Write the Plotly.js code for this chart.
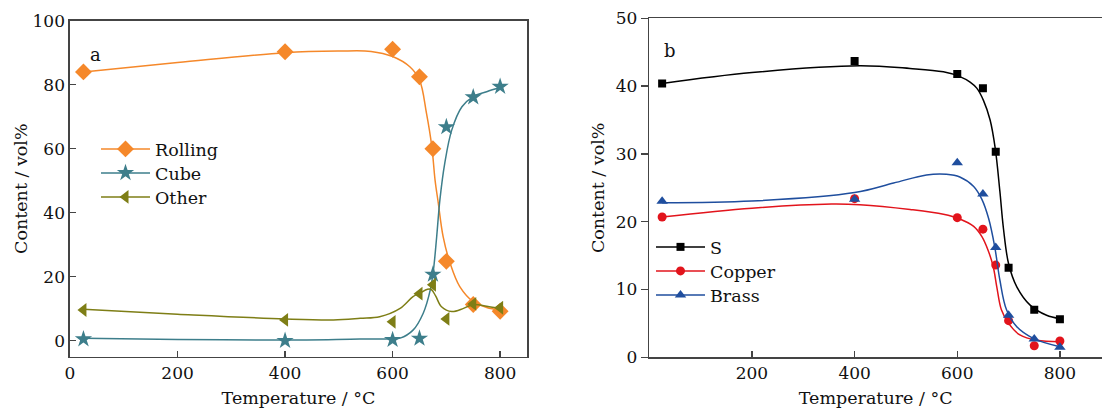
<!DOCTYPE html>
<html><head><meta charset="utf-8">
<script src="https://cdn.plot.ly/plotly-3.0.1.min.js"></script>
<style>html,body{margin:0;padding:0;background:#fff}#chart{width:1102px;height:409px}</style>
</head><body><div id="chart"></div>
<script>
// Measured points (°C, vol%)
const temps = [25, 400, 600, 650, 675, 700, 750, 800];
const rolling = [84.0, 90.3, 91.1, 82.5, 60.0, 24.8, 11.3, 9.2];
const cube = [0.5, 0.0, 0.3, 0.7, 20.7, 66.8, 76.1, 79.4];
const other = [9.6, 6.5, 5.9, 14.7, 17.5, 6.8, 11.5, 10.3];
const sComp = [40.4, 43.7, 41.8, 39.7, 30.3, 13.2, 7.0, 5.6];
const copper = [20.7, 23.4, 20.6, 18.9, 13.6, 5.4, 1.7, 2.4];
const brass = [23.0, 23.3, 28.7, 24.1, 16.2, 6.2, 2.7, 1.5];

// Fitted curves
const rollingFitT = [25, 200, 400, 500, 560, 600, 632, 650, 663, 673, 679, 685, 694, 707, 725, 750, 775, 800];
const rollingFit  = [84.0, 86.9, 90.0, 90.5, 90.4, 88.8, 85.6, 81.5, 71.1, 60.6, 50.2, 43.0, 32.5, 24.2, 16.9, 12.2, 10.4, 9.6];
const cubeFitT = [25, 200, 400, 539, 600, 614, 638, 657, 670, 676, 682, 688, 697, 710, 729, 750, 775, 800];
const cubeFit  = [0.75, 0.4, 0.2, 0.5, 0.6, 0.8, 3.3, 8.6, 15.8, 22.1, 32.5, 44.0, 55.4, 65.8, 73.1, 76.3, 77.8, 79.2];
const otherFitT = [25, 200, 400, 490, 540, 576, 614, 638, 650, 665, 672, 680, 691, 710, 732, 750, 775, 800];
const otherFit  = [9.8, 8.3, 6.8, 6.5, 7.0, 7.5, 10.1, 13.8, 14.8, 16.1, 16.0, 14.0, 10.6, 9.1, 10.1, 11.3, 10.8, 10.1];
const sFitT = [25, 200, 410, 508, 573, 605, 625, 638, 651, 664, 674, 683, 690, 700, 716, 742, 774, 800];
const sFit  = [40.4, 42.0, 43.0, 42.6, 42.1, 41.4, 40.6, 39.7, 37.9, 35.0, 30.8, 24.5, 19.0, 13.8, 10.4, 7.7, 6.2, 5.7];
const copperFitT = [25, 200, 355, 410, 508, 573, 605, 632, 648, 660, 670, 677, 686, 700, 722, 755, 800];
const copperFit  = [20.7, 22.0, 22.6, 22.5, 21.8, 21.1, 20.4, 19.3, 17.8, 15.8, 13.4, 10.4, 7.0, 5.0, 3.3, 2.5, 2.3];
const brassFitT = [25, 200, 400, 476, 540, 579, 605, 632, 648, 661, 673, 683, 696, 716, 748, 800];
const brassFit  = [22.8, 23.05, 24.3, 25.7, 26.9, 27.0, 26.6, 25.2, 23.3, 20.5, 16.3, 11.4, 7.0, 4.5, 2.8, 1.56];

const xTicksA = [0, 200, 400, 600, 800];
const xTicksB = [200, 400, 600, 800];
const yTicksA = [0, 20, 40, 60, 80, 100];
const yTicksB = [0, 10, 20, 30, 40, 50];

const FONT = 'DejaVu Serif';
const W = 1102, H = 409;
const series = [
  {name: 'Rolling', v: rolling, ft: rollingFitT, fv: rollingFit, color: '#F5882A', symbol: 'diamond', size: 13, ax: ['x', 'y'], lx: 96, ly: 149},
  {name: 'Cube', v: cube, ft: cubeFitT, fv: cubeFit, color: '#3D7E8B', symbol: 'star', size: 13, ax: ['x', 'y'], lx: 96, ly: 173},
  {name: 'Other', v: other, ft: otherFitT, fv: otherFit, color: '#7E7E16', symbol: 'triangle-left', size: 12, ax: ['x', 'y'], lx: 96, ly: 197},
  {name: 'S', v: sComp, ft: sFitT, fv: sFit, color: '#000000', symbol: 'square', size: 8, ax: ['x2', 'y2'], lx: 651, ly: 247},
  {name: 'Copper', v: copper, ft: copperFitT, fv: copperFit, color: '#E2141C', symbol: 'circle', size: 9, ax: ['x2', 'y2'], lx: 651, ly: 271},
  {name: 'Brass', v: brass, ft: brassFitT, fv: brassFit, color: '#1F4E9E', symbol: 'triangle-up', size: 10, ax: ['x2', 'y2'], lx: 651, ly: 295}
];

const traces = [];
const layout = {
  width: W, height: H, margin: {l: 0, r: 0, t: 0, b: 0},
  paper_bgcolor: '#fff', plot_bgcolor: '#fff', font: {family: FONT, color: '#111'}
};
series.forEach((s, i) => {
  const legKey = i === 0 ? 'legend' : 'legend' + (i + 1);
  traces.push({x: s.ft, y: s.fv, xaxis: s.ax[0], yaxis: s.ax[1], mode: 'lines', showlegend: false,
    line: {color: s.color, width: 1.5, shape: 'spline', smoothing: 1}, hoverinfo: 'skip'});
  traces.push({x: temps, y: s.v, xaxis: s.ax[0], yaxis: s.ax[1], mode: 'markers', showlegend: false,
    marker: {color: s.color, symbol: s.symbol, size: s.size}});
  traces.push({x: [null], y: [null], xaxis: s.ax[0], yaxis: s.ax[1], mode: 'lines+markers', name: s.name,
    legend: legKey, line: {color: s.color, width: 1.5}, marker: {color: s.color, symbol: s.symbol, size: s.size}});
  layout[legKey] = {x: s.lx / W, y: 1 - s.ly / H, xanchor: 'left', yanchor: 'middle', bgcolor: 'rgba(0,0,0,0)',
    font: {family: FONT, size: 17.5, color: '#111'}, itemwidth: 49};
});

const axLine = {showline: true, linecolor: '#444', linewidth: 1.6, showgrid: false, zeroline: false,
  tickcolor: '#444', tickwidth: 1.4, tickfont: {family: FONT, size: 17, color: '#111'}};
const titleFont = {family: FONT, size: 17.5, color: '#111'};

Object.assign(layout, {
  xaxis: Object.assign({}, axLine, {domain: [70 / W, 527 / W], range: [0, 850], tickvals: xTicksA,
    ticks: 'inside', ticklen: 6, mirror: true,
    title: {text: 'Temperature / °C', font: titleFont, standoff: 10}}),
  yaxis: Object.assign({}, axLine, {domain: [1 - 356.7 / H, 1 - 20.7 / H], range: [-5, 100], tickvals: yTicksA,
    ticks: 'inside', ticklen: 6, mirror: true,
    title: {text: 'Content / vol%', font: titleFont, standoff: 0}}),
  xaxis2: Object.assign({}, axLine, {domain: [649.3 / W, 1], range: [0, 882], tickvals: xTicksB,
    ticks: 'inside', ticklen: 6, mirror: true, anchor: 'y2',
    title: {text: 'Temperature / °C', font: titleFont, standoff: 9}}),
  yaxis2: Object.assign({}, axLine, {domain: [1 - 357.3 / H, 1 - 18.3 / H], range: [0, 50], tickvals: yTicksB,
    ticks: 'outside', ticklen: 7, anchor: 'x2',
    title: {text: 'Content / vol%', font: titleFont, standoff: 6}}),
  annotations: [
    {text: 'a', xref: 'paper', yref: 'paper', x: 88 / W, y: 1 - 41.7 / H, showarrow: false, font: {family: FONT, size: 18, color: '#111'}},
    {text: 'b', xref: 'paper', yref: 'paper', x: 670 / W, y: 1 - 38 / H, showarrow: false, font: {family: FONT, size: 18, color: '#111'}}
  ]
});

Plotly.newPlot('chart', traces, layout, {displayModeBar: false, staticPlot: true});
</script>
</body></html>
